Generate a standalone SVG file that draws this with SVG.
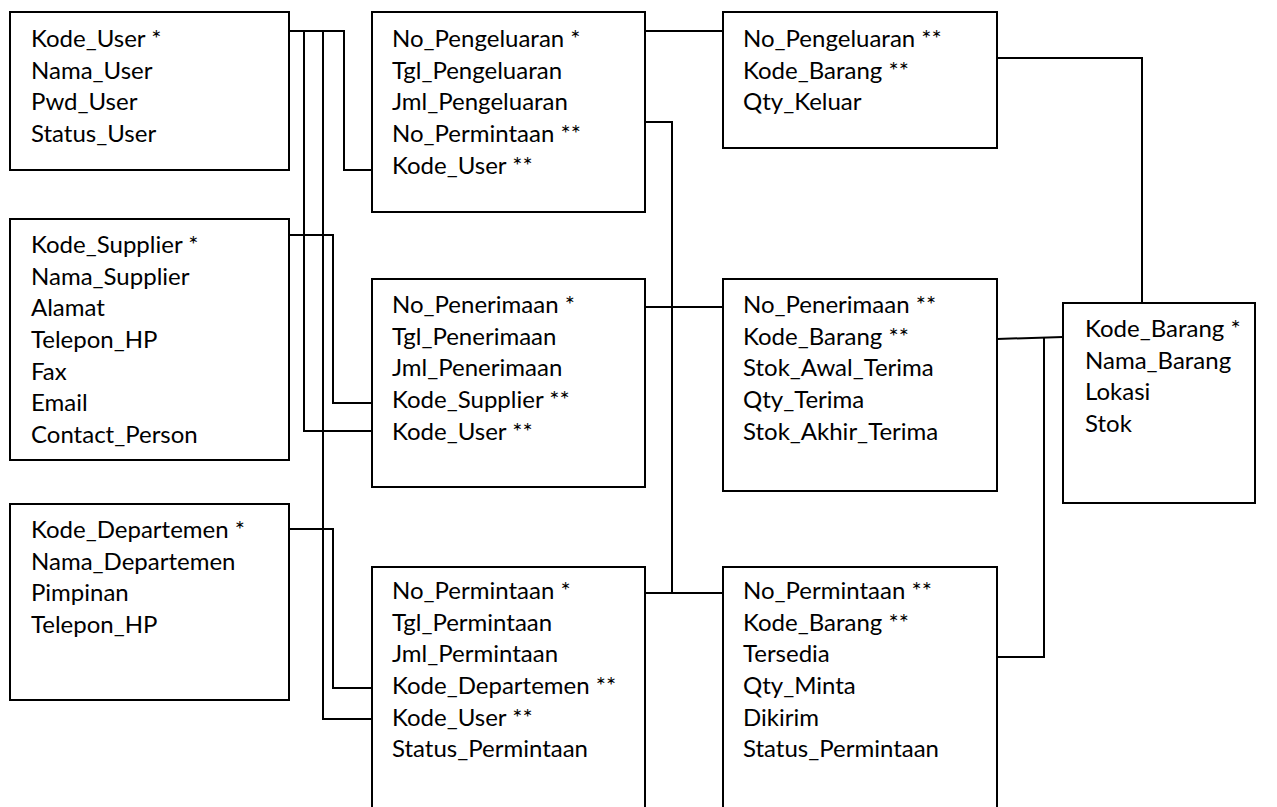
<svg xmlns="http://www.w3.org/2000/svg" width="1277" height="807" viewBox="0 0 1277 807">
<style>
.box{fill:#fff;stroke:#000;stroke-width:2}
.t{font-family:Lato,"Liberation Sans",sans-serif;font-size:24px;fill:#000}
.c{fill:none;stroke:#000;stroke-width:2}
</style>
<rect width="1277" height="807" fill="#fff"/>
<g id="connectors">
<polyline class="c" points="289,31 344,31 344,170 372,170"/>
<polyline class="c" points="304,31 304,431 372,431"/>
<polyline class="c" points="323,31 323,719 372,719"/>
<polyline class="c" points="289,235 333,235 333,403 372,403"/>
<polyline class="c" points="289,529 333,529 333,688 372,688"/>
<line class="c" x1="645" y1="31" x2="723" y2="31"/>
<polyline class="c" points="645,122 672,122 672,593"/>
<line class="c" x1="645" y1="307" x2="723" y2="307"/>
<line class="c" x1="645" y1="593" x2="723" y2="593"/>
<polyline class="c" points="997,58 1142,58 1142,306"/>
<line class="c" x1="997" y1="339" x2="1063" y2="337"/>
<polyline class="c" points="1044,337 1044,657 997,657"/>
</g>
<g id="user">
<rect class="box" x="10" y="12" width="279" height="158"/>
<text class="t" x="31" y="47">Kode_User *</text>
<text class="t" x="31" y="78.7">Nama_User</text>
<text class="t" x="31" y="110.4">Pwd_User</text>
<text class="t" x="31" y="142">Status_User</text>
</g>
<g id="supplier">
<rect class="box" x="10" y="219" width="279" height="241"/>
<text class="t" x="31" y="253">Kode_Supplier *</text>
<text class="t" x="31" y="284.7">Nama_Supplier</text>
<text class="t" x="31" y="316.4">Alamat</text>
<text class="t" x="31" y="348">Telepon_HP</text>
<text class="t" x="31" y="379.7">Fax</text>
<text class="t" x="31" y="411.4">Email</text>
<text class="t" x="31" y="443">Contact_Person</text>
</g>
<g id="departemen">
<rect class="box" x="10" y="504" width="279" height="196"/>
<text class="t" x="31" y="538">Kode_Departemen *</text>
<text class="t" x="31" y="569.7">Nama_Departemen</text>
<text class="t" x="31" y="601.4">Pimpinan</text>
<text class="t" x="31" y="633">Telepon_HP</text>
</g>
<g id="pengeluaran">
<rect class="box" x="372" y="12" width="273" height="200"/>
<text class="t" x="392" y="47">No_Pengeluaran *</text>
<text class="t" x="392" y="78.7">Tgl_Pengeluaran</text>
<text class="t" x="392" y="110.4">Jml_Pengeluaran</text>
<text class="t" x="392" y="142">No_Permintaan **</text>
<text class="t" x="392" y="173.7">Kode_User **</text>
</g>
<g id="penerimaan">
<rect class="box" x="372" y="279" width="273" height="208"/>
<text class="t" x="392" y="313">No_Penerimaan *</text>
<text class="t" x="392" y="344.7">Tgl_Penerimaan</text>
<text class="t" x="392" y="376.4">Jml_Penerimaan</text>
<text class="t" x="392" y="408">Kode_Supplier **</text>
<text class="t" x="392" y="439.7">Kode_User **</text>
</g>
<g id="permintaan">
<rect class="box" x="372" y="567" width="273" height="260"/>
<text class="t" x="392" y="599">No_Permintaan *</text>
<text class="t" x="392" y="630.7">Tgl_Permintaan</text>
<text class="t" x="392" y="662.4">Jml_Permintaan</text>
<text class="t" x="392" y="694">Kode_Departemen **</text>
<text class="t" x="392" y="725.7">Kode_User **</text>
<text class="t" x="392" y="757.4">Status_Permintaan</text>
</g>
<g id="detail_pengeluaran">
<rect class="box" x="723" y="12" width="274" height="136"/>
<text class="t" x="743" y="47">No_Pengeluaran **</text>
<text class="t" x="743" y="78.7">Kode_Barang **</text>
<text class="t" x="743" y="110.4">Qty_Keluar</text>
</g>
<g id="detail_penerimaan">
<rect class="box" x="723" y="279" width="274" height="212"/>
<text class="t" x="743" y="313">No_Penerimaan **</text>
<text class="t" x="743" y="344.7">Kode_Barang **</text>
<text class="t" x="743" y="376.4">Stok_Awal_Terima</text>
<text class="t" x="743" y="408">Qty_Terima</text>
<text class="t" x="743" y="439.7">Stok_Akhir_Terima</text>
</g>
<g id="detail_permintaan">
<rect class="box" x="723" y="567" width="274" height="260"/>
<text class="t" x="743" y="599">No_Permintaan **</text>
<text class="t" x="743" y="630.7">Kode_Barang **</text>
<text class="t" x="743" y="662.4">Tersedia</text>
<text class="t" x="743" y="694">Qty_Minta</text>
<text class="t" x="743" y="725.7">Dikirim</text>
<text class="t" x="743" y="757.4">Status_Permintaan</text>
</g>
<g id="barang">
<rect class="box" x="1063" y="303" width="192" height="200"/>
<text class="t" x="1085" y="337">Kode_Barang *</text>
<text class="t" x="1085" y="368.7">Nama_Barang</text>
<text class="t" x="1085" y="400.4">Lokasi</text>
<text class="t" x="1085" y="432">Stok</text>
</g>
</svg>
